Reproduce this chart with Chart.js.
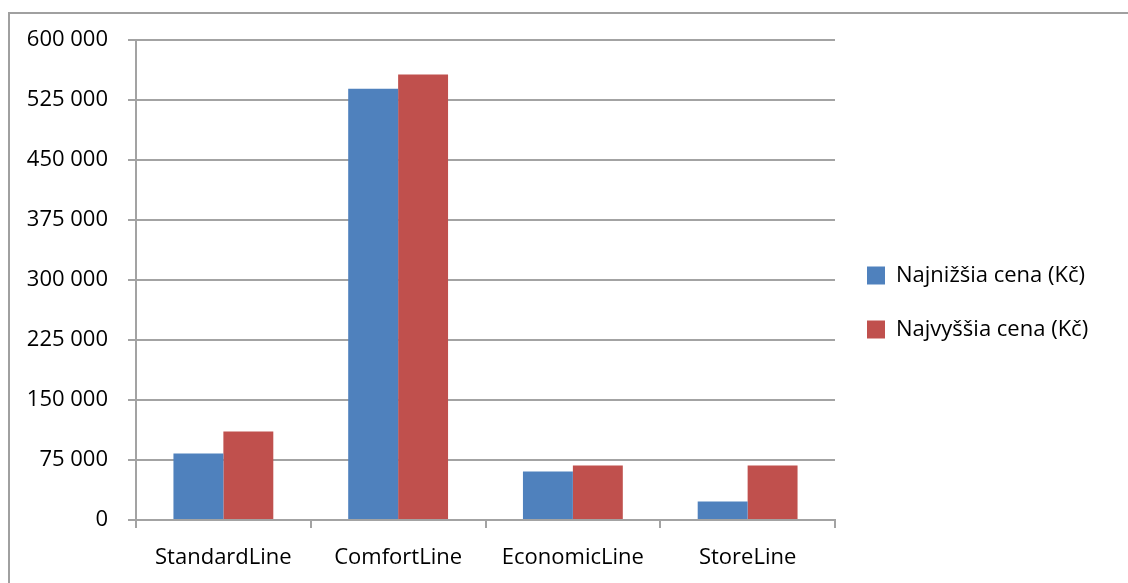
<!DOCTYPE html>
<html>
<head>
<meta charset="utf-8">
<script src="https://cdn.jsdelivr.net/npm/chart.js@4"></script>
<style>
  html, body { margin: 0; padding: 0; background: #fff; }
  #wrap { width: 1128px; height: 583px; position: relative; }
</style>
</head>
<body>
<div id="wrap"><canvas id="c" width="1128" height="583"></canvas></div>
<script>
const categories = ['StandardLine', 'ComfortLine', 'EconomicLine', 'StoreLine'];
const seriesNames = ['Najnižšia cena (Kč)', 'Najvyššia cena (Kč)'];
const lowestPrice = [83000, 539000, 60500, 23000];
const highestPrice = [110500, 557000, 68000, 68000];
const yTickValues = [0, 75000, 150000, 225000, 300000, 375000, 450000, 525000, 600000];

const FONT = 'Open Sans';
const FSIZE = 22;
const GRID = '#a3a3a3';
const PLOT_RIGHT = 835;
const LEG_PAD = 32;
const LEG_BOX = 18;

function fmt(v) {
  return String(v).replace(/\B(?=(\d{3})+(?!\d))/g, ' ');
}

const borderPlugin = {
  id: 'outerBorder',
  beforeDraw(chart) {
    const ctx = chart.ctx;
    ctx.save();
    ctx.fillStyle = '#fff';
    ctx.fillRect(0, 0, chart.width, chart.height);
    ctx.strokeStyle = '#a0a0a0';
    ctx.lineWidth = 2;
    ctx.beginPath();
    ctx.moveTo(9, chart.height + 5);
    ctx.lineTo(9, 13);
    ctx.lineTo(chart.width + 5, 13);
    ctx.stroke();
    ctx.restore();
  }
};

function build() {
  const mctx = document.createElement('canvas').getContext('2d');
  mctx.font = FSIZE + 'px "' + FONT + '"';
  const maxText = Math.max(...seriesNames.map(t => mctx.measureText(t).width));
  const legendWidth = LEG_PAD + LEG_BOX + FSIZE / 2 + maxText + 10;
  const rightPad = Math.max(0, 1128 - PLOT_RIGHT - legendWidth);

  new Chart(document.getElementById('c'), {
    type: 'bar',
    data: {
      labels: categories,
      datasets: [
        { label: seriesNames[0], data: lowestPrice, backgroundColor: '#4F81BD' },
        { label: seriesNames[1], data: highestPrice, backgroundColor: '#C0504D' }
      ]
    },
    plugins: [borderPlugin],
    options: {
      responsive: false,
      animation: false,
      devicePixelRatio: 1,
      layout: { padding: { top: 40, left: 0, right: rightPad, bottom: 18 } },
      datasets: { bar: { categoryPercentage: 2 / 3.5, barPercentage: 1 } },
      plugins: {
        tooltip: { enabled: false },
        legend: {
          position: 'right',
          align: 'center',
          labels: {
            boxWidth: LEG_BOX,
            boxHeight: LEG_BOX,
            padding: LEG_PAD,
            color: '#000',
            font: { family: FONT, size: FSIZE }
          }
        }
      },
      scales: {
        x: {
          afterFit(s) { s.height = 45; },
          grid: {
            display: true,
            drawOnChartArea: false,
            drawTicks: true,
            tickLength: 8,
            offset: true,
            color: GRID,
            lineWidth: 2
          },
          border: { display: true, color: GRID, width: 2 },
          ticks: {
            color: '#000',
            padding: 17,
            font: { family: FONT, size: FSIZE }
          }
        },
        y: {
          min: 0,
          max: 600000,
          afterFit(s) { s.width = 136; },
          afterBuildTicks(s) { s.ticks = yTickValues.map(v => ({ value: v })); },
          grid: {
            color: GRID,
            lineWidth: 2,
            drawTicks: true,
            tickLength: 8
          },
          border: { display: true, color: GRID, width: 2 },
          ticks: {
            color: '#000',
            padding: 20,
            font: { family: FONT, size: FSIZE },
            callback: v => fmt(v)
          }
        }
      }
    }
  });
}

const fontLoad = (document.fonts && document.fonts.load)
  ? document.fonts.load(FSIZE + 'px "' + FONT + '"', 'Najvyššia 0123456789')
  : Promise.resolve();
fontLoad.then(build, build);
</script>
</body>
</html>
